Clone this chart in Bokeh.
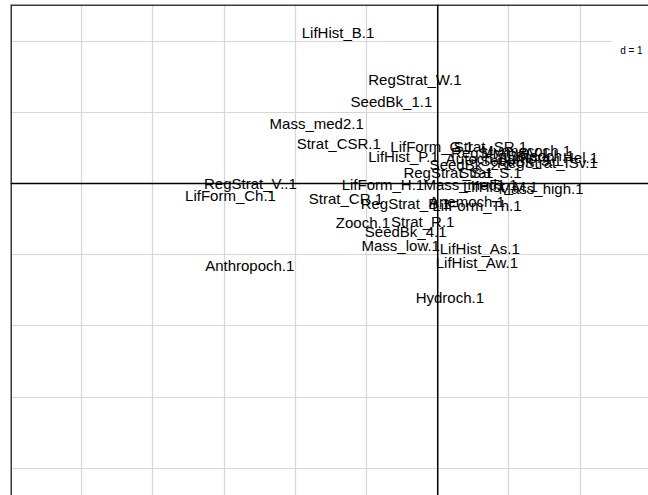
from bokeh.plotting import figure
from bokeh.models import ColumnDataSource, Span, Label, SingleIntervalTicker, Range1d
from bokeh.core.properties import value
from bokeh.embed import file_html
from bokeh.resources import INLINE

labels = [
    "LifHist_B.1", "RegStrat_W.1", "SeedBk_1.1", "Mass_med2.1", "Strat_CSR.1",
    "LifForm_G.1", "LifHist_P.1", "Strat_SR.1", "Myrmecoch.1", "RegStrat_SV.1",
    "LifForm_Hel.1", "RegStrat_ISv.1", "SeedBk_2.1", "Autoch.1", "RegStrat_S.1",
    "Strat_S.1", "Mass_med1.1", "LifHist_M.1", "Mass_high.1", "Anemoch.1",
    "LifForm_Th.1", "RegStrat_B.1", "RegStrat_V..1", "LifForm_Ch.1", "Strat_CR.1",
    "Zooch.1", "Strat_R.1", "SeedBk_4.1", "Mass_low.1", "LifHist_As.1",
    "LifHist_Aw.1", "Anthropoch.1", "Hydroch.1", "LifForm_H.1", "SeedBk_3.1",
    "Boleoch.1",
]
x_vals = [
    -1.40, -0.32, -0.65, -1.70, -1.39,
    -0.08, -0.48, 0.74, 1.24, 0.88,
    1.59, 1.54, 0.46, 0.53, 0.15,
    0.74, 0.46, 0.88, 1.45, 0.41,
    0.55, -0.45, -2.63, -2.91, -1.29,
    -1.05, -0.21, -0.45, -0.52, 0.59,
    0.55, -2.64, 0.17, -0.77, 1.17,
    1.45,
]
y_vals = [
    2.12, 1.46, 1.15, 0.84, 0.56,
    0.52, 0.38, 0.52, 0.46, 0.44,
    0.37, 0.29, 0.27, 0.35, 0.15,
    0.15, -0.01, -0.04, -0.07, -0.25,
    -0.31, -0.28, 0.00, -0.17, -0.21,
    -0.55, -0.53, -0.67, -0.87, -0.91,
    -1.11, -1.15, -1.60, -0.01, 0.32,
    0.39,
]
grid_step = 1
x_lim = (-6.0, 2.96)
y_lim = (-4.382, 2.514)
scale_label = "d = 1"

src = ColumnDataSource(dict(x=x_vals, y=y_vals, text=labels))

p = figure(width=648, height=495, output_backend="svg", toolbar_location=None,
           x_range=Range1d(*x_lim), y_range=Range1d(*y_lim),
           min_border_left=10, min_border_right=0, min_border_top=4, min_border_bottom=0)
p.axis.visible = False
p.outline_line_color = None
p.background_fill_color = "white"
p.xgrid.ticker = SingleIntervalTicker(interval=grid_step)
p.ygrid.ticker = SingleIntervalTicker(interval=grid_step)
p.grid.grid_line_color = "#D6D6D6"
p.grid.grid_line_width = 1.2

# frame borders (top and left visible in the reference)
p.add_layout(Span(location=x_lim[0], dimension="height", line_color="#3a3a3a", line_width=3))
p.add_layout(Span(location=y_lim[1], dimension="width", line_color="#3a3a3a", line_width=3))

# axes through origin
p.add_layout(Span(location=0, dimension="height", line_color="black", line_width=1.5))
p.add_layout(Span(location=0, dimension="width", line_color="black", line_width=1.5))

p.text(x="x", y="y", text="text", source=src, text_align="center",
       text_baseline="middle", text_font=value("Liberation Sans"),
       text_font_size="15px", text_color="black")

p.add_layout(Label(x=2.72, y=1.87, text=scale_label, text_align="center",
                   text_baseline="middle", text_font="Liberation Sans",
                   text_font_size="10px", text_color="black",
                   background_fill_color="white", padding=8))

open("out.html", "w").write(file_html(p, INLINE))
